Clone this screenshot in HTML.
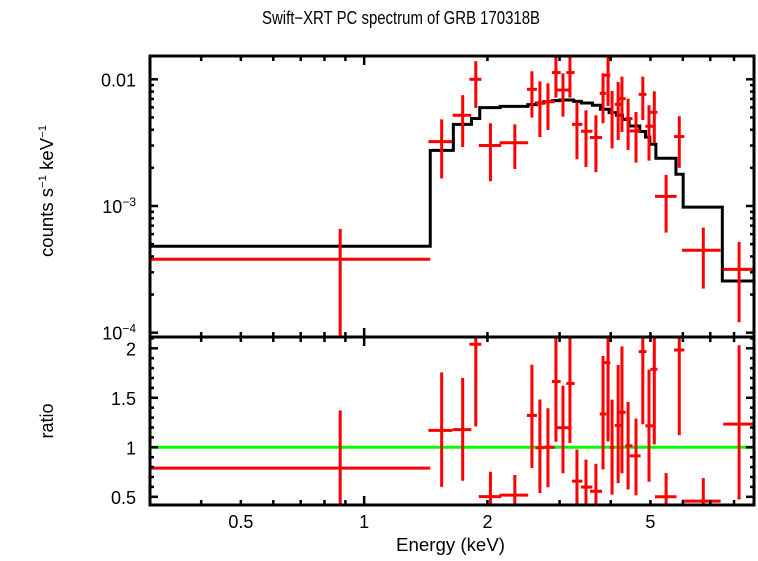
<!DOCTYPE html>
<html><head><meta charset="utf-8"><style>
body{margin:0;background:#fff;width:758px;height:556px;overflow:hidden}
svg text{font-family:"Liberation Sans",sans-serif;fill:#000}
</style></head><body>
<svg id="chart" width="758" height="556" viewBox="0 0 758 556" xmlns="http://www.w3.org/2000/svg">
<text x="262" y="24" font-size="18" textLength="278" lengthAdjust="spacingAndGlyphs">Swift−XRT PC spectrum of GRB 170318B</text>
<text transform="translate(53,191) rotate(-90)" font-size="18" text-anchor="middle" textLength="132" lengthAdjust="spacingAndGlyphs">counts s<tspan font-size="11" dy="-7">−1</tspan><tspan dy="7"> keV</tspan><tspan font-size="11" dy="-7">−1</tspan></text>
<text transform="translate(53,421) rotate(-90)" font-size="18" text-anchor="middle">ratio</text>
<text x="396" y="551" font-size="18" textLength="109" lengthAdjust="spacingAndGlyphs">Energy (keV)</text>
<g id="g-top"></g>
<g id="g-bot"></g>
<g id="g-axes"></g>
</svg>
<script>
// data points: energy centre, bin low, bin high, counts, upper, lower
const energy=[0.874,1.546,1.740,1.873,2.034,2.333,2.568,2.686,2.81,2.939,3.058,3.18,3.308,3.48,3.68,3.83,3.94,4.03,4.17,4.26,4.41,4.61,4.79,4.96,5.11,5.88,5.46,6.73,8.23];
const eLow=[0.3,1.435,1.644,1.807,1.905,2.140,2.496,2.62,2.75,2.873,2.946,3.116,3.216,3.384,3.56,3.76,3.85,3.98,4.09,4.17,4.34,4.45,4.68,4.86,5.00,5.71,5.13,5.97,7.53];
const eHigh=[1.45,1.642,1.827,1.933,2.161,2.515,2.641,2.75,2.92,3.018,3.186,3.265,3.41,3.608,3.81,3.90,3.99,4.08,4.27,4.35,4.52,4.73,4.89,5.08,5.20,6.05,5.79,7.42,8.95];
const counts=[3.8e-4,3.22e-3,5.2e-3,1.0e-2,3.0e-3,3.16e-3,8.34e-3,6.47e-3,6.67e-3,1.13e-2,8.23e-3,1.13e-2,4.41e-3,3.89e-3,3.47e-3,7.75e-3,1.076e-2,5.46e-3,6.35e-3,7.04e-3,4.9e-3,3.91e-3,7.61e-3,4.26e-3,5.49e-3,3.53e-3,1.19e-3,4.47e-4,3.16e-4];
const countsHi=[6.6e-4,4.83e-3,7.5e-3,1.39e-2,4.5e-3,4.41e-3,1.157e-2,9.64e-3,9.3e-3,1.7e-2,1.115e-2,1.7e-2,6.55e-3,5.69e-3,5.2e-3,1.115e-2,1.55e-2,8.09e-3,9.52e-3,1.05e-2,7.04e-3,5.52e-3,1.05e-2,6.24e-3,8.04e-3,5.11e-3,1.76e-3,6.75e-4,5.2e-4];
const countsLo=[1e-6,1.65e-3,2.92e-3,5.93e-3,1.57e-3,1.96e-3,4.99e-3,3.5e-3,3.98e-3,7.17e-3,5.07e-3,7.17e-3,2.34e-3,2.03e-3,1.85e-3,4.5e-3,6.15e-3,2.85e-3,3.32e-3,3.84e-3,2.77e-3,2.2e-3,4.77e-3,2.28e-3,3.16e-3,2.0e-3,6.17e-4,2.23e-4,1.21e-4];
// model step function
const modelEdges=[0.3,1.45,1.651,1.828,1.915,2.148,2.51,2.633,2.747,2.88,3.0,3.248,3.39,3.608,3.774,3.963,4.13,4.273,4.435,4.71,4.864,4.983,5.155,5.77,6.01,7.49,8.95];
const modelVals=[4.81e-4,2.75e-3,4.41e-3,4.9e-3,5.98e-3,6.12e-3,6.31e-3,6.5e-3,6.67e-3,6.79e-3,6.87e-3,6.7e-3,6.5e-3,6.24e-3,5.8e-3,5.46e-3,5.2e-3,4.83e-3,4.28e-3,3.87e-3,3.5e-3,3.07e-3,2.38e-3,1.78e-3,9.8e-4,2.56e-4];
const xTickLabels=["0.5","1","2","5"];
const xTickVals=[0.5,1,2,5];
const ratioTicks=[0.5,1,1.5,2];

const NS="http://www.w3.org/2000/svg";
const L=150,R=754,T=56,MID=337,B=505;
const xmin=0.3,xmax=8.95;
const X=e=>L+(Math.log10(e)-Math.log10(xmin))/(Math.log10(xmax)-Math.log10(xmin))*(R-L);
const YT=v=>79.3-(Math.log10(v)+2)*126.7;
const YR=r=>447.3-(r-1)*99;
const clampT=y=>Math.max(T,Math.min(MID,y));
const clampB=y=>Math.max(MID,Math.min(B,y));
function el(tag,attrs,parent){const e=document.createElementNS(NS,tag);for(const k in attrs)e.setAttribute(k,attrs[k]);parent.appendChild(e);return e;}
function modelAt(e){for(let i=0;i<modelVals.length;i++){if(e>=modelEdges[i]&&e<modelEdges[i+1])return modelVals[i];}return modelVals[modelVals.length-1];}
const gt=document.getElementById('g-top'),gb=document.getElementById('g-bot'),ga=document.getElementById('g-axes');

let d="";
for(let i=0;i<modelVals.length;i++){const y=YT(modelVals[i]);d+=(i===0?"M":"L")+X(modelEdges[i])+","+y+"L"+X(modelEdges[i+1])+","+y;}
const mp=el('path',{d:d,fill:'none',stroke:'#000','stroke-width':3},gt);



const gl=el('line',{x1:L,x2:R,y1:YR(1),y2:YR(1),stroke:'#00ff00','stroke-width':3},gb);



for(let i=0;i<energy.length;i++){
  const xc=X(energy[i]),x0=X(eLow[i]),x1=X(eHigh[i]);
  const g=el('g',{stroke:'#ff0000','stroke-width':3},gt);
  
  
  el('line',{x1:x0,x2:x1,y1:YT(counts[i]),y2:YT(counts[i])},g);
  el('line',{x1:xc,x2:xc,y1:clampT(YT(countsHi[i])),y2:clampT(YT(countsLo[i]))},g);
  const m=modelAt(energy[i]);
  const r=counts[i]/m,rh=countsHi[i]/m,rl=countsLo[i]/m;
  const g2=el('g',{stroke:'#ff0000','stroke-width':3},gb);
  
  
  const ry=YR(r);
  if(ry>=MID&&ry<=B) el('line',{x1:x0,x2:x1,y1:ry,y2:ry},g2);
  el('line',{x1:xc,x2:xc,y1:clampB(YR(rh)),y2:clampB(YR(rl))},g2);
}

const fr=el('g',{stroke:'#000','stroke-width':3,fill:'none'},ga);


el('rect',{x:L,y:T,width:R-L,height:B-T},fr);
el('line',{x1:L,x2:R,y1:MID,y2:MID},fr);
const xt=[0.3,0.4,0.5,0.6,0.7,0.8,0.9,1,2,3,4,5,6,7,8];
for(const v of xt){const x=X(v);const len=(v===1)?9:5;
  for(const [y0,dir] of [[T,1],[MID,-1],[MID,1],[B,-1]]) el('line',{x1:x,x2:x,y1:y0,y2:y0+dir*len,'stroke-width':2.5},fr);}
for(let dec=-4;dec<=-2;dec++){for(let k=1;k<10;k++){const v=k*Math.pow(10,dec);const y=YT(v);if(y<T||y>MID)continue;const len=k===1?8:4;
  el('line',{x1:L,x2:L+len,y1:y,y2:y,'stroke-width':2.5},fr);el('line',{x1:R,x2:R-len,y1:y,y2:y,'stroke-width':2.5},fr);}}
for(let k=5;k<=21;k++){const v=k/10;const y=YR(v);if(y<MID||y>B)continue;const len=(k%5===0)?8:4;
  el('line',{x1:L,x2:L+len,y1:y,y2:y,'stroke-width':2.5},fr);el('line',{x1:R,x2:R-len,y1:y,y2:y,'stroke-width':2.5},fr);}
for(let i=0;i<xTickVals.length;i++){const t=el('text',{x:X(xTickVals[i]),y:528,'font-size':18,'text-anchor':'middle'},ga);t.textContent=xTickLabels[i];
  
  }
for(const v of ratioTicks){const t=el('text',{x:136,y:YR(v)+7,'font-size':18,'text-anchor':'end'},ga);t.textContent=String(v);
  
  }
const t1=el('text',{x:136,y:YT(0.01)+7,'font-size':18,'text-anchor':'end'},ga);t1.textContent="0.01";


for(const [lab,v] of [["−3",1e-3],["−4",1e-4]]){const t=el('text',{x:136,y:YT(v)+7,'font-size':18,'text-anchor':'end'},ga);
  t.innerHTML='10<tspan font-size="12" dy="-7">'+lab+'</tspan>';
  
  }
</script>
</body></html>
